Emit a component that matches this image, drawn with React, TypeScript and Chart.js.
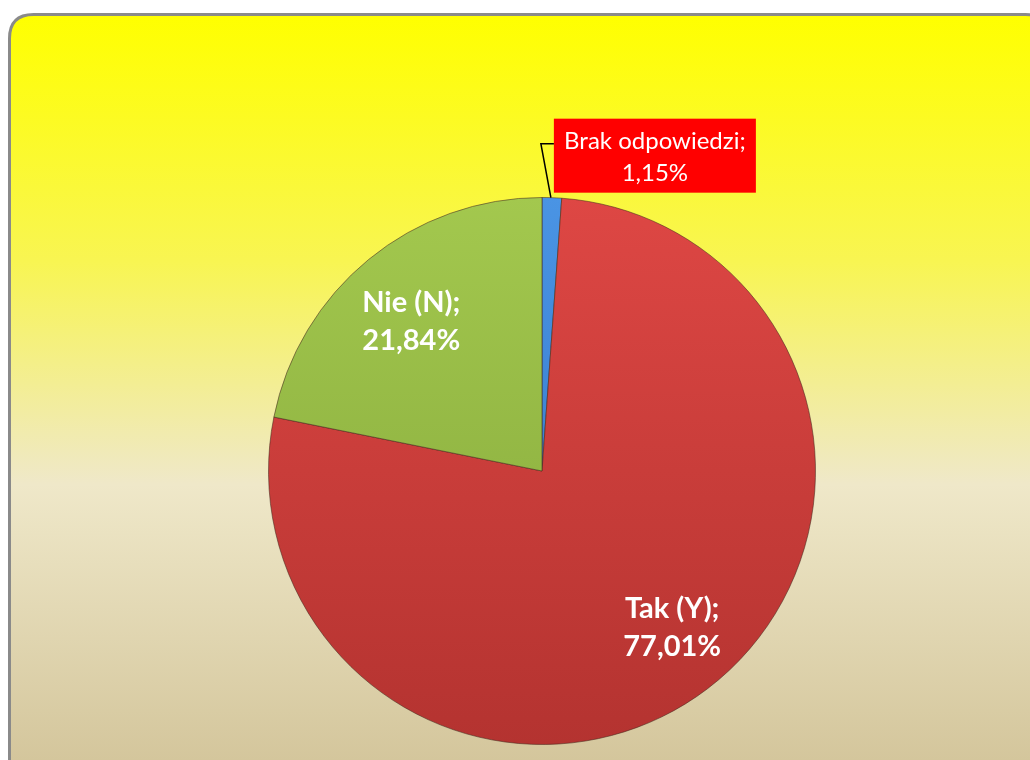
import React, { useEffect, useRef } from "react";
import { Chart, registerables } from "chart.js";

Chart.register(...registerables);

const categories = ["Brak odpowiedzi", "Tak (Y)", "Nie (N)"];
const values = [1.15, 77.01, 21.84];
const valueLabels = ["1,15%", "77,01%", "21,84%"];
const topColors = ["#4a94e4", "#de4744", "#a3c84e"];
const bottomColors = ["#2e70c0", "#b43330", "#83a63a"];

const W = 1030;
const H = 760;

const backgroundPlugin = {
  id: "bgPanel",
  beforeDraw(chart: any) {
    const ctx = chart.ctx;
    ctx.save();
    const x = 9.5, y = 14.5, w = 1040, h = 780, r = 24;
    const g = ctx.createLinearGradient(0, 15, 0, 760);
    g.addColorStop(0, "#ffff00");
    g.addColorStop(0.33, "#f8f552");
    g.addColorStop(0.63, "#efe8c9");
    g.addColorStop(1, "#d4c69c");
    ctx.beginPath();
    ctx.moveTo(x + r, y);
    ctx.lineTo(x + w - r, y);
    ctx.quadraticCurveTo(x + w, y, x + w, y + r);
    ctx.lineTo(x + w, y + h - r);
    ctx.quadraticCurveTo(x + w, y + h, x + w - r, y + h);
    ctx.lineTo(x + r, y + h);
    ctx.quadraticCurveTo(x, y + h, x, y + h - r);
    ctx.lineTo(x, y + r);
    ctx.quadraticCurveTo(x, y, x + r, y);
    ctx.closePath();
    ctx.fillStyle = g;
    ctx.fill();
    ctx.lineWidth = 3;
    ctx.strokeStyle = "#8a8a8a";
    ctx.stroke();
    ctx.restore();
  },
};

const labelPlugin = {
  id: "sliceLabels",
  afterDatasetsDraw(chart: any) {
    const ctx = chart.ctx;
    const meta = chart.getDatasetMeta(0);
    ctx.save();
    meta.data.forEach((arc: any, i: number) => {
      const { x, y, startAngle, endAngle, outerRadius } = arc.getProps(
        ["x", "y", "startAngle", "endAngle", "outerRadius"],
        true
      );
      const mid = (startAngle + endAngle) / 2;
      if (i === 0) {
        const px = x + Math.cos(mid) * outerRadius;
        const py = y + Math.sin(mid) * outerRadius;
        const ex = px - 11;
        const ey = py - 54;
        const bx = ex + 13;
        const by = ey - 25;
        const bw = 202;
        const bh = 74;
        ctx.fillStyle = "#ff0000";
        ctx.fillRect(bx, by, bw, bh);
        ctx.beginPath();
        ctx.moveTo(px - 1, py);
        ctx.lineTo(ex, ey);
        ctx.lineTo(bx, ey);
        ctx.strokeStyle = "#000000";
        ctx.lineWidth = 1.5;
        ctx.stroke();
        ctx.fillStyle = "#ffffff";
        ctx.font = "24px Lato";
        ctx.textAlign = "center";
        ctx.textBaseline = "middle";
        ctx.fillText(categories[i] + ";", bx + bw / 2, by + 23);
        ctx.fillText(valueLabels[i], bx + bw / 2, by + 55);
      } else {
        const rr = outerRadius * 0.72;
        const dx = i === 1 ? 11 : -6;
        const dy = i === 1 ? 0 : 3;
        const lx = x + Math.cos(mid) * rr + dx;
        const ly = y + Math.sin(mid) * rr + dy;
        ctx.fillStyle = "#ffffff";
        ctx.font = "bold 29px Lato";
        ctx.textAlign = "center";
        ctx.textBaseline = "middle";
        ctx.fillText(categories[i] + ";", lx, ly - 19);
        ctx.fillText(valueLabels[i], lx, ly + 19);
      }
    });
    ctx.restore();
  },
};

export default function App() {
  const ref = useRef<HTMLCanvasElement>(null);
  useEffect(() => {
    if (!ref.current) return;
    const chart = new Chart(ref.current, {
      type: "pie",
      data: {
        labels: categories,
        datasets: [
          {
            data: values,
            backgroundColor: (c: any) => {
              const area = c.chart.chartArea;
              if (!area) return topColors[c.dataIndex];
              const g = c.chart.ctx.createLinearGradient(0, area.top, 0, area.bottom);
              g.addColorStop(0, topColors[c.dataIndex]);
              g.addColorStop(1, bottomColors[c.dataIndex]);
              return g;
            },
            borderColor: "rgba(70,40,30,0.55)",
            borderWidth: 1,
          },
        ],
      },
      options: {
        responsive: false,
        animation: false,
        layout: { padding: { left: 268, right: 214, top: 197, bottom: 15 } },
        plugins: {
          legend: { display: false },
          tooltip: { enabled: false },
        },
      },
      plugins: [backgroundPlugin, labelPlugin],
    });
    return () => chart.destroy();
  }, []);
  return (
    <div style={{ position: "fixed", left: 0, top: 0, width: W, height: H }}>
      <canvas ref={ref} width={W} height={H} style={{ width: W, height: H, display: "block" }} />
    </div>
  );
}
